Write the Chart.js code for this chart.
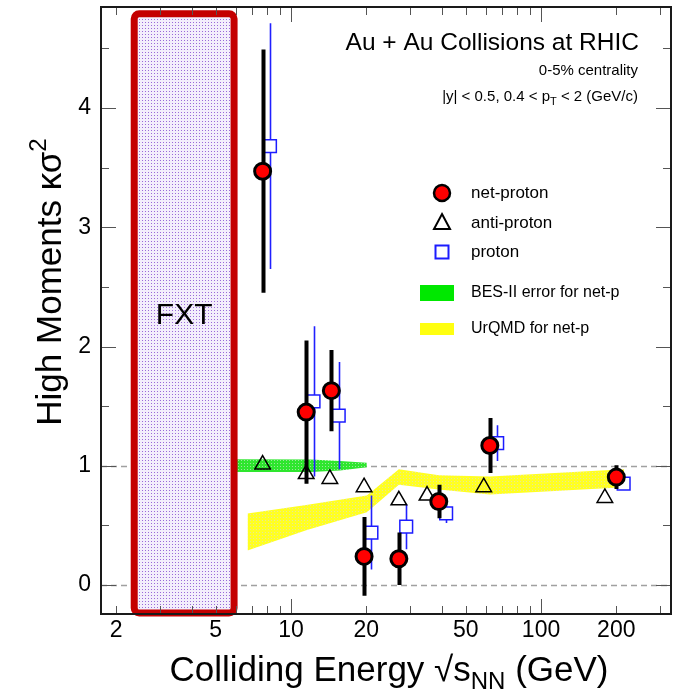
<!DOCTYPE html>
<html>
<head>
<meta charset="utf-8">
<script src="https://cdn.jsdelivr.net/npm/chart.js@4/dist/chart.umd.min.js"></script>
<style>
  html, body { margin: 0; padding: 0; background: #ffffff; overflow: hidden; }
  #wrap { width: 677px; height: 696px; }
  canvas { display: block; }
</style>
</head>
<body>
<div id="wrap"><canvas id="c" width="677" height="696"></canvas></div>
<script>
// Collision energies (GeV) of the BES-I points
const energies = [7.7, 11.5, 14.5, 19.6, 27, 39, 62.4, 200];

// net-proton kappa*sigma^2 and its uncertainty
const netProton = [3.47, 1.45, 1.63, 0.24, 0.22, 0.70, 1.17, 0.905];
const netProtonErr = [1.02, 0.60, 0.34, 0.33, 0.22, 0.14, 0.23, 0.10];

// proton kappa*sigma^2 (drawn slightly to the right of the net-proton point)
const proton = [3.68, 1.54, 1.42, 0.44, 0.49, 0.60, 1.19, 0.85];
const protonErr = [1.03, 0.63, 0.45, 0.31, 0.19, 0.08, 0.15, 0.03];
const protonShift = 1.07;

// anti-proton kappa*sigma^2 and the energies where they sit
const antiProtonEnergy = [7.7, 11.5, 14.3, 19.6, 27, 35, 59, 180];
const antiProton = [1.01, 0.93, 0.89, 0.82, 0.71, 0.75, 0.82, 0.73];

// BES-II projected error band for net-protons
const besEnergy = [5.5, 12, 15.7, 20.1];
const besLow = [0.947, 0.948, 0.96, 0.987];
const besHigh = [1.054, 1.052, 1.04, 1.025];

// UrQMD band for net-protons
const urqmdEnergy = [6.7, 11.5, 20.1, 27, 39, 62.4, 215];
const urqmdLow = [0.29, 0.46, 0.61, 0.84, 0.80, 0.76, 0.82];
const urqmdHigh = [0.60, 0.67, 0.75, 0.97, 0.92, 0.91, 0.97];

// fixed-target energy region
const fxtRange = [2.36, 5.92];
const fxtY = [-0.235, 4.79];

// axis ticks
const xTickLabels = [2, 5, 10, 20, 50, 100, 200];
const xMinorTicks = [2, 3, 4, 5, 6, 7, 8, 9, 20, 30, 40, 50, 60, 70, 80, 90, 200, 300];
const xMajorTicks = [10, 100];
const yTickLabels = [0, 1, 2, 3, 4];
const yMinorTicks = [0.5, 1.5, 2.5, 3.5, 4.5];

const FONT = "'Liberation Sans', Arial, Helvetica, sans-serif";

function makePattern(bg, dot, size, dots) {
  const t = document.createElement('canvas');
  t.width = size; t.height = size;
  const g = t.getContext('2d');
  g.fillStyle = bg; g.fillRect(0, 0, size, size);
  g.fillStyle = dot;
  dots.forEach(([a, b]) => g.fillRect(a, b, 1, 1));
  return g.createPattern(t, 'repeat');
}

const yellowFill = makePattern('#ffff22', '#e6e69a', 3, [[1, 1]]);
const greenFill = makePattern('#2ee62e', '#9be69b', 3, [[1, 1]]);
const fxtFill = makePattern('#f3eefc', '#9a6ad8', 3, [[1, 1]]);

const pts = (xs, ys) => xs.map((x, i) => ({ x: x, y: ys[i] }));

// error bars are painted right before the markers of their dataset
const errorBars = {
  id: 'errorBars',
  beforeDatasetDraw(chart, args) {
    const ds = chart.data.datasets[args.index];
    if (!ds.errors) return;
    const { ctx, chartArea } = chart;
    const xs = chart.scales.x, ys = chart.scales.y;
    ctx.save();
    ctx.beginPath();
    ctx.rect(chartArea.left, chartArea.top, chartArea.right - chartArea.left, chartArea.bottom - chartArea.top);
    ctx.clip();
    ctx.strokeStyle = ds.errorColor;
    ctx.lineWidth = ds.errorWidth;
    ctx.beginPath();
    ds.data.forEach((p, i) => {
      const px = Math.round(xs.getPixelForValue(p.x)) + 0.5;
      ctx.moveTo(px, ys.getPixelForValue(p.y + ds.errors[i]));
      ctx.lineTo(px, ys.getPixelForValue(p.y - ds.errors[i]));
    });
    ctx.stroke();
    ctx.restore();
  }
};

// dashed reference lines at 0 and 1
const refLines = {
  id: 'refLines',
  beforeDatasetsDraw(chart) {
    const { ctx, chartArea } = chart;
    const ys = chart.scales.y;
    ctx.save();
    ctx.strokeStyle = '#a0a0a0';
    ctx.lineWidth = 1.5;
    ctx.setLineDash([6, 4]);
    [0, 1].forEach(v => {
      const py = Math.round(ys.getPixelForValue(v)) + 0.5;
      ctx.beginPath();
      ctx.moveTo(chartArea.left, py);
      ctx.lineTo(chartArea.right, py);
      ctx.stroke();
    });
    ctx.restore();
  }
};

function drawParts(ctx, parts, x, y, align) {
  let total = 0;
  parts.forEach(p => { ctx.font = p.font; p.w = ctx.measureText(p.t).width; total += p.w; });
  let cx = align === 'right' ? x - total : (align === 'center' ? x - total / 2 : x);
  parts.forEach(p => {
    ctx.font = p.font;
    ctx.fillText(p.t, cx, y + (p.dy || 0));
    cx += p.w;
  });
}

// frame, ticks, labels, FXT box, annotations and legend
const decorations = {
  id: 'decorations',
  afterDatasetsDraw(chart) {
    const { ctx } = chart;
    const xs = chart.scales.x, ys = chart.scales.y;
    // FXT region
    const x0 = xs.getPixelForValue(fxtRange[0]), x1 = xs.getPixelForValue(fxtRange[1]);
    const y0 = ys.getPixelForValue(fxtY[1]), y1 = ys.getPixelForValue(fxtY[0]);
    ctx.save();
    ctx.beginPath();
    ctx.roundRect(x0, y0, x1 - x0, y1 - y0, 5);
    ctx.fillStyle = fxtFill;
    ctx.fill();
    ctx.lineWidth = 7;
    ctx.lineJoin = 'round';
    ctx.strokeStyle = '#c40000';
    ctx.stroke();
    ctx.fillStyle = '#000';
    ctx.font = '30px ' + FONT;
    ctx.textAlign = 'center';
    ctx.textBaseline = 'middle';
    ctx.fillText('FXT', (x0 + x1) / 2, ys.getPixelForValue(2.26));
    ctx.restore();
  },
  afterDraw(chart) {
    const { ctx, chartArea: a } = chart;
    const xs = chart.scales.x, ys = chart.scales.y;
    ctx.save();
    // ticks (inward, on all four sides)
    ctx.strokeStyle = '#555';
    ctx.lineWidth = 1;
    ctx.beginPath();
    const xt = (v, len) => {
      const px = Math.round(xs.getPixelForValue(v)) + 0.5;
      ctx.moveTo(px, a.bottom); ctx.lineTo(px, a.bottom - len);
      ctx.moveTo(px, a.top); ctx.lineTo(px, a.top + len);
    };
    const yt = (v, len) => {
      const py = Math.round(ys.getPixelForValue(v)) + 0.5;
      ctx.moveTo(a.left, py); ctx.lineTo(a.left + len, py);
      ctx.moveTo(a.right, py); ctx.lineTo(a.right - len, py);
    };
    xMinorTicks.forEach(v => xt(v, 8));
    xMajorTicks.forEach(v => xt(v, 15));
    yMinorTicks.forEach(v => yt(v, 8));
    yTickLabels.forEach(v => yt(v, 15));
    ctx.stroke();
    // frame
    ctx.strokeStyle = '#1a1a1a';
    ctx.lineWidth = 2;
    ctx.strokeRect(a.left, a.top, a.right - a.left, a.bottom - a.top);

    // tick labels
    ctx.fillStyle = '#000';
    ctx.font = '23px ' + FONT;
    ctx.textAlign = 'center';
    ctx.textBaseline = 'middle';
    xTickLabels.forEach(v => ctx.fillText(String(v), xs.getPixelForValue(v), 631));
    ctx.textAlign = 'right';
    yTickLabels.forEach(v => ctx.fillText(String(v), 91, ys.getPixelForValue(v)));

    // axis titles
    ctx.textAlign = 'left';
    ctx.textBaseline = 'alphabetic';
    drawParts(ctx, [
      { t: 'Colliding Energy \u221As', font: '35px ' + FONT },
      { t: 'NN', font: '24px ' + FONT, dy: 8 },
      { t: ' (GeV)', font: '35px ' + FONT }
    ], 389, 681, 'center');
    ctx.save();
    ctx.translate(61, 282);
    ctx.rotate(-Math.PI / 2);
    drawParts(ctx, [
      { t: 'High Moments \u03BA\u03C3', font: '35px ' + FONT },
      { t: '2', font: '24px ' + FONT, dy: -15 }
    ], 0, 0, 'center');
    ctx.restore();

    // annotations
    drawParts(ctx, [{ t: 'Au + Au Collisions at RHIC', font: '24.5px ' + FONT }], 639, 50, 'right');
    drawParts(ctx, [{ t: '0-5% centrality', font: '15px ' + FONT }], 638, 75, 'right');
    drawParts(ctx, [
      { t: '|y| < 0.5, 0.4 < p', font: '15px ' + FONT },
      { t: 'T', font: '11px ' + FONT, dy: 4 },
      { t: ' < 2 (GeV/c)', font: '15px ' + FONT }
    ], 638, 101, 'right');

    // legend
    const lx = 442, tx = 471;
    ctx.font = '17px ' + FONT;
    ctx.textBaseline = 'middle';
    ctx.textAlign = 'left';
    // net-proton
    ctx.beginPath(); ctx.arc(lx, 193, 8, 0, Math.PI * 2);
    ctx.fillStyle = '#ff0000'; ctx.fill();
    ctx.lineWidth = 2.5; ctx.strokeStyle = '#000'; ctx.stroke();
    // anti-proton
    ctx.beginPath();
    ctx.moveTo(lx, 214); ctx.lineTo(lx + 8, 229); ctx.lineTo(lx - 8, 229); ctx.closePath();
    ctx.lineWidth = 2; ctx.strokeStyle = '#000'; ctx.stroke();
    // proton
    ctx.lineWidth = 2; ctx.strokeStyle = '#1c1cff';
    ctx.strokeRect(lx - 6.5, 245.5, 13, 13);
    // bands
    ctx.fillStyle = '#00e800'; ctx.fillRect(420, 285, 34, 16);
    ctx.fillStyle = '#ffff10'; ctx.fillRect(420, 323, 34, 12);
    ctx.fillStyle = '#000';
    ctx.fillText('net-proton', tx, 193);
    ctx.fillText('anti-proton', tx, 223);
    ctx.fillText('proton', tx, 252);
    ctx.font = '16px ' + FONT;
    ctx.fillText('BES-II error for net-p', tx, 293);
    ctx.fillText('UrQMD for net-p', tx, 329);
    ctx.restore();
  }
};

new Chart(document.getElementById('c'), {
  type: 'scatter',
  data: {
    datasets: [
      {
        label: 'net-proton',
        data: pts(energies, netProton),
        errors: netProtonErr, errorColor: '#000', errorWidth: 4,
        pointStyle: 'circle', pointRadius: 8,
        backgroundColor: '#ff0000', borderColor: '#000', borderWidth: 3,
        order: 1
      },
      {
        label: 'anti-proton',
        data: pts(antiProtonEnergy, antiProton),
        pointStyle: 'triangle', pointRadius: 9,
        backgroundColor: 'rgba(0,0,0,0)', borderColor: '#000', borderWidth: 1.5,
        order: 3
      },
      {
        label: 'proton',
        data: pts(energies.map(e => e * protonShift), proton),
        errors: protonErr, errorColor: '#2020ff', errorWidth: 1.6,
        pointStyle: 'rect', pointRadius: 9,
        backgroundColor: '#ffffff', borderColor: '#1c1cff', borderWidth: 1.5,
        order: 4
      },
      {
        label: 'BES-II error for net-p',
        data: pts(besEnergy, besHigh),
        showLine: true, pointRadius: 0, borderWidth: 0,
        backgroundColor: greenFill, fill: '+1',
        order: 8
      },
      {
        label: 'BES-II low',
        data: pts(besEnergy, besLow),
        showLine: true, pointRadius: 0, borderWidth: 0, fill: false,
        order: 9
      },
      {
        label: 'UrQMD for net-p',
        data: pts(urqmdEnergy, urqmdHigh),
        showLine: true, pointRadius: 0, borderWidth: 0,
        backgroundColor: yellowFill, fill: '+1',
        order: 10
      },
      {
        label: 'UrQMD low',
        data: pts(urqmdEnergy, urqmdLow),
        showLine: true, pointRadius: 0, borderWidth: 0, fill: false,
        order: 11
      }
    ]
  },
  options: {
    responsive: false,
    animation: false,
    devicePixelRatio: 1,
    layout: { autoPadding: false, padding: { left: 101, right: 6, top: 7, bottom: 82 } },
    scales: {
      x: { type: 'logarithmic', min: 1.738, max: 331, display: false },
      y: { type: 'linear', min: -0.243, max: 4.847, display: false }
    },
    plugins: {
      legend: { display: false },
      tooltip: { enabled: false }
    }
  },
  plugins: [refLines, errorBars, decorations]
});
</script>
</body>
</html>
